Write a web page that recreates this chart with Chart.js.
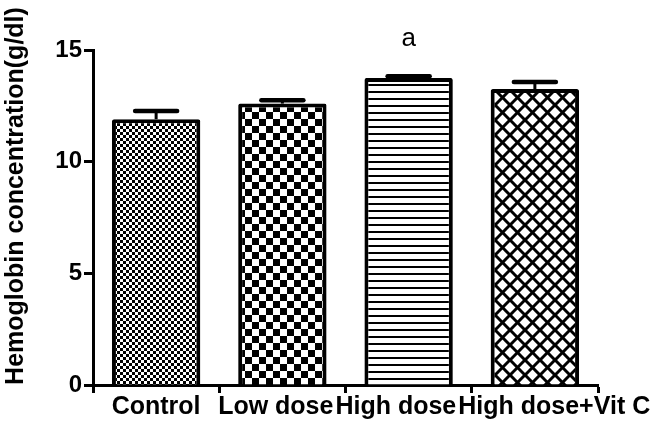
<!DOCTYPE html>
<html>
<head>
<meta charset="utf-8">
<script src="https://cdn.jsdelivr.net/npm/chart.js@4/dist/chart.umd.min.js"></script>
<style>
  html, body { margin: 0; padding: 0; background: #fff; }
  #wrap { width: 666px; height: 429px; }
</style>
</head>
<body>
<div id="wrap"><canvas id="hbChart" width="666" height="429"></canvas></div>
<script>
// Hemoglobin per group (g/dl), mean and SEM
const groups = ['Control', 'Low dose', 'High dose', 'High dose+Vit C'];
const hbMean = [11.9, 12.6, 13.75, 13.25];
const hbErr = [0.37, 0.15, 0.08, 0.32];
const sigLabels = ['', '', 'a', ''];
const yTicks = [0, 5, 10, 15];

const FONT = '"Liberation Sans", Arial, Helvetica, sans-serif';

// fill patterns for the bars
function makePattern(kind) {
    const c = document.createElement('canvas');
    const g = c.getContext('2d');
    if (kind === 'fineCheck') {
        c.width = 6; c.height = 6;
        g.fillStyle = '#fff'; g.fillRect(0, 0, 6, 6);
        g.fillStyle = '#000';
        g.fillRect(0, 0, 3, 3); g.fillRect(3, 3, 3, 3);
    } else if (kind === 'bigCheck') {
        c.width = 14; c.height = 14;
        g.fillStyle = '#fff'; g.fillRect(0, 0, 14, 14);
        g.fillStyle = '#000';
        g.fillRect(0, 0, 7, 7); g.fillRect(7, 7, 7, 7);
    } else if (kind === 'hLines') {
        c.width = 8; c.height = 7;
        g.fillStyle = '#fff'; g.fillRect(0, 0, 8, 7);
        g.fillStyle = '#000';
        g.fillRect(0, 0, 8, 2);
    } else {
        c.width = 15; c.height = 15;
        g.fillStyle = '#fff'; g.fillRect(0, 0, 15, 15);
        g.strokeStyle = '#000'; g.lineWidth = 3;
        [-15, 0, 15].forEach(k => {
            g.beginPath(); g.moveTo(k, 0); g.lineTo(k + 15, 15); g.stroke();
            g.beginPath(); g.moveTo(k + 15, 0); g.lineTo(k, 15); g.stroke();
        });
    }
    return g.createPattern(c, 'repeat');
}

const patterns = [makePattern('fineCheck'), makePattern('bigCheck'), makePattern('hLines'), makePattern('cross')];

// error bars, letters, category labels and the rotated y title
const extras = {
    id: 'extras',
    afterDatasetsDraw(chart) {
        const ctx = chart.ctx;
        const y = chart.scales.y;
        const bars = chart.getDatasetMeta(0).data;
        ctx.save();
        ctx.strokeStyle = '#000';
        bars.forEach((bar, i) => {
            const top = y.getPixelForValue(hbMean[i]);
            const cap = y.getPixelForValue(hbMean[i] + hbErr[i]);
            ctx.lineWidth = 3;
            ctx.lineCap = 'butt';
            ctx.beginPath(); ctx.moveTo(bar.x, top); ctx.lineTo(bar.x, cap); ctx.stroke();
            ctx.lineWidth = 4.5;
            ctx.lineCap = 'round';
            ctx.beginPath(); ctx.moveTo(bar.x - 21, cap); ctx.lineTo(bar.x + 21, cap); ctx.stroke();
            if (sigLabels[i]) {
                ctx.fillStyle = '#000';
                ctx.font = '26px ' + FONT;
                ctx.textAlign = 'center';
                ctx.textBaseline = 'alphabetic';
                ctx.fillText(sigLabels[i], bar.x, cap - 30);
            }
        });
        ctx.restore();
    },
    afterDraw(chart) {
        const ctx = chart.ctx;
        const xs = chart.scales.x;
        ctx.save();
        ctx.fillStyle = '#000';

        // category names: centred under ticks, nudged apart where they collide
        ctx.font = 'bold 25px ' + FONT;
        const boxes = groups.map((t, i) => ({ t, w: ctx.measureText(t).width, c: xs.getPixelForValue(i) }));
        for (let it = 0; it < 30; it++) {
            for (let i = 1; i < boxes.length; i++) {
                const a = boxes[i - 1], b = boxes[i];
                const ov = (a.c + a.w / 2 + 2) - (b.c - b.w / 2);
                if (ov > 0) { a.c -= ov / 2; b.c += ov / 2; }
            }
            const last = boxes[boxes.length - 1];
            const over = last.c + last.w / 2 - (chart.width - 2);
            if (over > 0) last.c -= over;
        }
        ctx.textAlign = 'center';
        ctx.textBaseline = 'top';
        boxes.forEach(b => ctx.fillText(b.t, b.c, xs.top + 10));

        ctx.translate(16, 196);
        ctx.rotate(-Math.PI / 2);
        ctx.font = 'bold 25px ' + FONT;
        ctx.textBaseline = 'middle';
        ctx.fillText('Hemoglobin concentration(g/dl)', 0, 0);
        ctx.restore();
    }
};

new Chart(document.getElementById('hbChart').getContext('2d'), {
    type: 'bar',
    data: {
        labels: groups,
        datasets: [{
            data: hbMean,
            backgroundColor: patterns,
            borderColor: '#000',
            borderWidth: 4,
            borderRadius: 2,
            borderSkipped: 'bottom',
            barPercentage: 0.7,
            categoryPercentage: 1.0
        }]
    },
    options: {
        responsive: false,
        animation: false,
        events: [],
        layout: {
            padding: { top: 50, right: 68, left: 0, bottom: 0 }
        },
        plugins: {
            legend: { display: false },
            tooltip: { enabled: false }
        },
        scales: {
            x: {
                afterFit: s => { s.height = 44; },
                grid: {
                    drawOnChartArea: false,
                    drawTicks: true,
                    tickLength: 8,
                    tickWidth: 3,
                    color: '#000'
                },
                border: { color: '#000', width: 3 },
                ticks: { display: false }
            },
            y: {
                min: 0,
                max: 15,
                afterFit: s => { s.width = 93; },
                afterBuildTicks: s => { s.ticks = yTicks.map(v => ({ value: v })); },
                grid: {
                    drawOnChartArea: false,
                    drawTicks: true,
                    tickLength: 9,
                    tickWidth: 3,
                    color: '#000'
                },
                border: { color: '#000', width: 3 },
                ticks: {
                    padding: 2,
                    color: '#000',
                    font: { family: FONT, size: 24, weight: 'bold' }
                }
            }
        }
    },
    plugins: [extras]
});
</script>
</body>
</html>
